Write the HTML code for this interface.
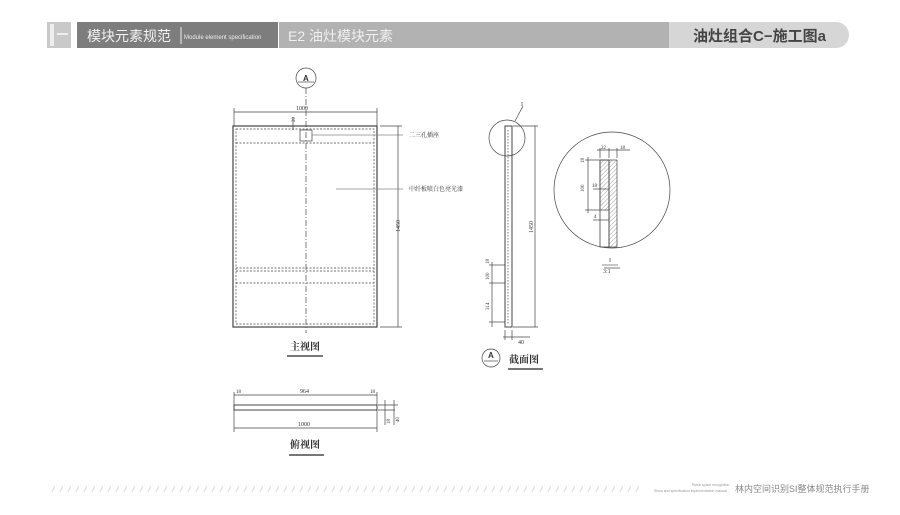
<!DOCTYPE html>
<html><head><meta charset="utf-8"><style>
body{margin:0;width:900px;height:515px;background:#fff;overflow:hidden}
svg{display:block}
text{font-family:"Liberation Serif","Noto Serif CJK SC",serif;fill:#333}
.s{font-family:"Liberation Sans","Noto Sans CJK SC",sans-serif}
</style></head><body>
<svg width="900" height="515" viewBox="0 0 900 515">
<defs>
<pattern id="h" width="3" height="3" patternUnits="userSpaceOnUse" patternTransform="rotate(45)"><line x1="0" y1="0" x2="0" y2="3" stroke="#666" stroke-width="0.6"/></pattern>
</defs>
<!-- header -->
<rect x="47" y="22" width="24" height="26" fill="#c9c9c9"/>
<rect x="50" y="24" width="4" height="22" fill="#eee"/>
<rect x="57" y="33" width="11" height="2" fill="#eee"/>
<rect x="77" y="22" width="201" height="26" fill="#7d7d7d"/>
<rect x="279" y="22" width="390" height="26" fill="#b2b2b2"/>
<path d="M669 22 H836 A13 13 0 0 1 836 48 H669 Z" fill="#d6d6d6"/>
<text x="87" y="41" class="s" font-size="14" style="fill:#f2f2f2">模块元素规范</text>
<line x1="181" y1="27" x2="181" y2="44" stroke="#eee"/>
<text x="184" y="39" class="s" font-size="6" style="fill:#eee">Module element specification</text>
<text x="288" y="41" class="s" font-size="14" style="fill:#f0f0f0">E2 油灶模块元素</text>
<text x="693" y="41" class="s" font-size="15" font-weight="bold" style="fill:#444">油灶组合C−施工图a</text>

<g stroke="#444" fill="none" stroke-width="0.7">
<!-- main view -->
<circle cx="306" cy="78" r="10"/>
<line x1="298" y1="82" x2="314" y2="82"/>
<line x1="306" y1="88" x2="306" y2="333" stroke-dasharray="6,2,1,2"/>
<line x1="234" y1="112" x2="377" y2="112"/>
<line x1="234" y1="108" x2="234" y2="126"/><line x1="377" y1="108" x2="377" y2="126"/>
<rect x="233" y="126" width="144" height="201" stroke-width="1.2"/>
<rect x="236" y="129" width="138" height="195" stroke-dasharray="2,1.5"/>
<line x1="236" y1="143" x2="374" y2="143" stroke-dasharray="2,1.5"/>
<line x1="236" y1="268" x2="374" y2="268" stroke-dasharray="2,1.5"/>
<line x1="236" y1="271" x2="374" y2="271" stroke-dasharray="2,1.5"/>
<line x1="236" y1="283" x2="374" y2="283" stroke-dasharray="2,1.5"/>
<rect x="300" y="130" width="12" height="11"/>
<line x1="293" y1="117" x2="293" y2="130"/>
<line x1="312" y1="135" x2="403" y2="135" stroke="#888"/>
<line x1="336" y1="189" x2="403" y2="189" stroke="#888"/>
<line x1="380" y1="126" x2="402" y2="126"/><line x1="380" y1="327" x2="402" y2="327"/>
<line x1="398" y1="126" x2="398" y2="327"/>
<!-- top view -->
<line x1="234" y1="395" x2="377" y2="395"/>
<rect x="234" y="405" width="143" height="5" stroke-width="1"/>
<line x1="234" y1="428" x2="377" y2="428"/>
<line x1="234" y1="392" x2="234" y2="432"/><line x1="377" y1="392" x2="377" y2="432"/>
<line x1="378" y1="405" x2="398" y2="405"/><line x1="378" y1="410" x2="395" y2="410"/>
<line x1="385" y1="400" x2="385" y2="425"/><line x1="394" y1="400" x2="394" y2="425"/>
<!-- section -->
<circle cx="507" cy="138" r="18"/>
<line x1="515" y1="121" x2="523" y2="106"/>
<rect x="505" y="126" width="7" height="201" stroke-width="1"/>
<line x1="508" y1="130" x2="508" y2="324" stroke-dasharray="1.5,1.5"/>
<line x1="513" y1="126" x2="538" y2="126"/><line x1="513" y1="327" x2="538" y2="327"/>
<line x1="535" y1="126" x2="535" y2="327"/>
<line x1="489" y1="265" x2="505" y2="265"/><line x1="489" y1="283" x2="505" y2="283"/><line x1="489" y1="322" x2="505" y2="322"/>
<line x1="492" y1="262" x2="492" y2="327"/>
<line x1="505" y1="330" x2="505" y2="340"/><line x1="512" y1="330" x2="512" y2="340"/><line x1="503" y1="337" x2="530" y2="337"/>
<circle cx="491" cy="358" r="9"/><line x1="484" y1="361" x2="498" y2="361"/>
<!-- detail -->
<circle cx="612" cy="190" r="58"/>
<rect x="600" y="160" width="9" height="87" stroke-width="0.8"/>
<rect x="600" y="160" width="9" height="50" fill="url(#h)"/>
<rect x="609" y="160" width="8" height="87" fill="url(#h)"/>
<line x1="600" y1="148" x2="600" y2="158"/><line x1="609" y1="148" x2="609" y2="158"/><line x1="617" y1="148" x2="617" y2="158"/>
<line x1="597" y1="150" x2="630" y2="150"/>
<line x1="585" y1="160" x2="600" y2="160"/><line x1="585" y1="210" x2="600" y2="210"/>
<line x1="588" y1="157" x2="588" y2="213"/>
<line x1="593" y1="189" x2="609" y2="189"/><line x1="593" y1="220" x2="609" y2="220"/>
<line x1="604" y1="268" x2="620" y2="268"/>
</g>
<g font-size="6">
<text x="296" y="110">1000</text>
<text x="292" y="125" font-size="5" transform="rotate(-90 292 122)">20</text>
<text x="409" y="137">二三孔插座</text>
<text x="409" y="191">中纤板喷白色亮光漆</text>
<text x="400" y="232" transform="rotate(-90 400 232)">1450</text>
<text x="300" y="393">964</text>
<text x="236" y="393" font-size="5">18</text><text x="370" y="393" font-size="5">18</text>
<text x="298" y="426">1000</text>
<text x="390" y="424" font-size="5" transform="rotate(-90 390 424)">18</text>
<text x="399" y="422" font-size="5" transform="rotate(-90 399 422)">40</text>
<text x="521" y="106">I</text>
<text x="533" y="233" transform="rotate(-90 533 233)">1450</text>
<text x="489" y="264" font-size="5" transform="rotate(-90 489 264)">18</text>
<text x="489" y="280" font-size="5" transform="rotate(-90 489 280)">100</text>
<text x="489" y="310" font-size="5" transform="rotate(-90 489 310)">314</text>
<text x="518" y="344">40</text>
<text x="601" y="149" font-size="5">22</text><text x="620" y="149" font-size="5">18</text>
<text x="584" y="163" font-size="5" transform="rotate(-90 584 163)">18</text>
<text x="584" y="192" font-size="5" transform="rotate(-90 584 192)">100</text>
<text x="592" y="187" font-size="5">18</text>
<text x="594" y="218" font-size="5">4</text>
<text x="609" y="262">I</text>
<line x1="602" y1="265" x2="618" y2="265" stroke="#444" stroke-width="0.6"/>
<text x="603" y="273">3:1</text>
</g>
<text x="303" y="81" class="s" font-size="8" font-weight="bold">A</text>
<text x="488" y="358" class="s" font-size="8" font-weight="bold">A</text>
<text x="290" y="350" font-size="10" font-weight="bold">主视图</text>
<rect x="287" y="355" width="36" height="2" fill="#777"/>
<text x="509" y="363" font-size="10" font-weight="bold">截面图</text>
<rect x="508" y="368" width="35" height="2" fill="#777"/>
<text x="290" y="448" font-size="10" font-weight="bold">俯视图</text>
<rect x="289" y="454" width="35" height="2" fill="#777"/>
<!-- footer -->
<g stroke="#ddd" stroke-width="1">
<path d="M52 492l3-6M60 492l3-6M68 492l3-6M76 492l3-6M84 492l3-6M92 492l3-6M100 492l3-6M108 492l3-6M116 492l3-6M124 492l3-6M132 492l3-6M140 492l3-6M148 492l3-6M156 492l3-6M164 492l3-6M172 492l3-6M180 492l3-6M188 492l3-6M196 492l3-6M204 492l3-6M212 492l3-6M220 492l3-6M228 492l3-6M236 492l3-6M244 492l3-6M252 492l3-6M260 492l3-6M268 492l3-6M276 492l3-6M284 492l3-6M292 492l3-6M300 492l3-6M308 492l3-6M316 492l3-6M324 492l3-6M332 492l3-6M340 492l3-6M348 492l3-6M356 492l3-6M364 492l3-6M372 492l3-6M380 492l3-6M388 492l3-6M396 492l3-6M404 492l3-6M412 492l3-6M420 492l3-6M428 492l3-6M436 492l3-6M444 492l3-6M452 492l3-6M460 492l3-6M468 492l3-6M476 492l3-6M484 492l3-6M492 492l3-6M500 492l3-6M508 492l3-6M516 492l3-6M524 492l3-6M532 492l3-6M540 492l3-6M548 492l3-6M556 492l3-6M564 492l3-6M572 492l3-6M580 492l3-6M588 492l3-6M596 492l3-6M604 492l3-6M612 492l3-6M620 492l3-6M628 492l3-6M636 492l3-6"/>
</g>
<text x="692" y="486" class="s" font-size="3.5" style="fill:#999">Rimai space recognition</text>
<text x="654" y="492" class="s" font-size="3.5" style="fill:#999">Show and specification implementation manual</text>
<text x="735" y="492" class="s" font-size="9" style="fill:#888">林内空间识别SI整体规范执行手册</text>
</svg>
</body></html>
